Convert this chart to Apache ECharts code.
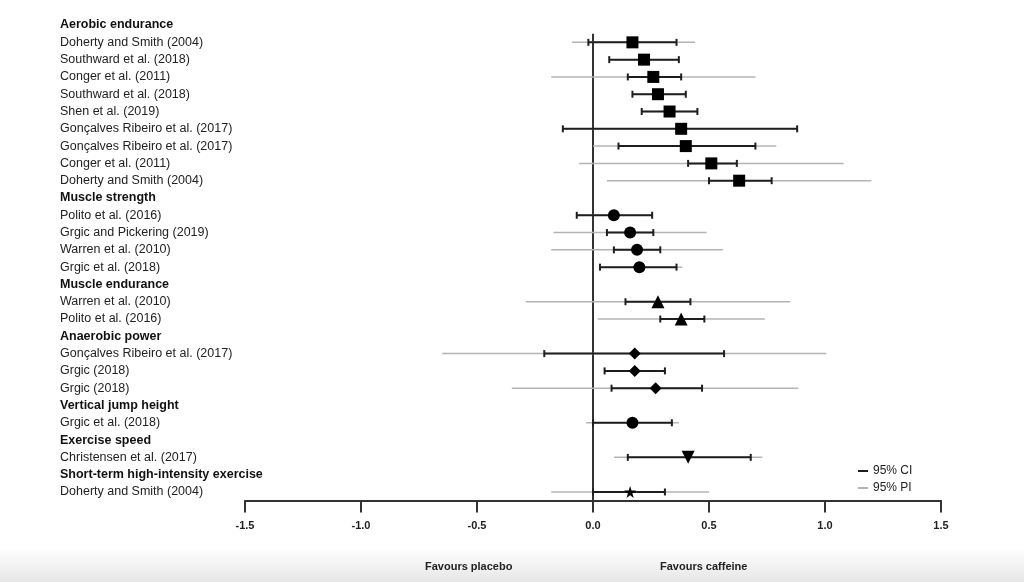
<!DOCTYPE html>
<html>
<head>
<meta charset="utf-8">
<script src="https://cdn.jsdelivr.net/npm/echarts@6/dist/echarts.min.js"></script>
<style>
  html, body { margin: 0; padding: 0; background: #fff; }
  #chart { width: 1024px; height: 582px; }
</style>
</head>
<body>
<div id="chart"></div>
<script>
// rows top to bottom, headers marked
let rows = [
    'Aerobic endurance',
    'Doherty and Smith (2004)', 'Southward et al. (2018)', 'Conger et al. (2011)', 'Southward et al. (2018)',
    'Shen et al. (2019)', 'Gonçalves Ribeiro et al. (2017)', 'Gonçalves Ribeiro et al. (2017)',
    'Conger et al. (2011)', 'Doherty and Smith (2004)',
    'Muscle strength',
    'Polito et al. (2016)', 'Grgic and Pickering (2019)', 'Warren et al. (2010)', 'Grgic et al. (2018)',
    'Muscle endurance',
    'Warren et al. (2010)', 'Polito et al. (2016)',
    'Anaerobic power',
    'Gonçalves Ribeiro et al. (2017)', 'Grgic (2018)', 'Grgic (2018)',
    'Vertical jump height',
    'Grgic et al. (2018)',
    'Exercise speed',
    'Christensen et al. (2017)',
    'Short-term high-intensity exercise',
    'Doherty and Smith (2004)'
];
let headers = [0, 10, 15, 18, 22, 24, 26];

let est    = [null, 0.17, 0.22, 0.26, 0.28, 0.33, 0.38, 0.40, 0.51, 0.63, null, 0.09, 0.16, 0.19, 0.20, null, 0.28, 0.38, null, 0.18, 0.18, 0.27, null, 0.17, null, 0.41, null, 0.16];
let ciLow  = [null, -0.02, 0.07, 0.15, 0.17, 0.21, -0.13, 0.11, 0.41, 0.50, null, -0.07, 0.06, 0.09, 0.03, null, 0.14, 0.29, null, -0.21, 0.05, 0.08, null, 0.00, null, 0.15, null, 0.00];
let ciHigh = [null, 0.36, 0.37, 0.38, 0.40, 0.45, 0.88, 0.70, 0.62, 0.77, null, 0.255, 0.26, 0.29, 0.36, null, 0.42, 0.48, null, 0.565, 0.31, 0.47, null, 0.34, null, 0.68, null, 0.31];
let piLow  = [null, -0.09, 0.07, -0.18, 0.17, 0.21, -0.13, 0.00, -0.06, 0.06, null, -0.07, -0.17, -0.18, 0.03, null, -0.29, 0.02, null, -0.65, 0.05, -0.35, null, -0.03, null, 0.09, null, -0.18];
let piHigh = [null, 0.44, 0.37, 0.70, 0.40, 0.45, 0.88, 0.79, 1.08, 1.20, null, 0.255, 0.49, 0.56, 0.385, null, 0.85, 0.74, null, 1.005, 0.31, 0.885, null, 0.37, null, 0.73, null, 0.50];

// marker per row (by outcome group)
let star = 'path://M50,0 L61,35 L98,35 L68,57 L79,91 L50,70 L21,91 L32,57 L2,35 L39,35 Z';
let marks = [
    null, 'rect', 'rect', 'rect', 'rect', 'rect', 'rect', 'rect', 'rect', 'rect',
    null, 'circle', 'circle', 'circle', 'circle',
    null, 'triangle', 'triangle',
    null, 'diamond', 'diamond', 'diamond',
    null, 'circle',
    null, 'triangleDown',
    null, star
];
let xTicks = [-1.5, 1.5, 0.5];

let font = '"Liberation Sans", Arial, sans-serif';
let ciColor = '#1e1e1e';
let piColor = '#b4b4b4';

let ciData = [], piData = [], ptData = [];
rows.forEach((r, i) => {
    if (est[i] == null) return;
    ciData.push([ciLow[i], ciHigh[i], i]);
    piData.push([piLow[i], piHigh[i], i]);
    let m = marks[i];
    let size = {rect: 12, circle: 12, triangle: 13, diamond: 12, triangleDown: 13}[m] || 12;
    ptData.push({
        value: [est[i], i],
        symbol: m === 'triangleDown' ? 'triangle' : m,
        symbolRotate: m === 'triangleDown' ? 180 : 0,
        symbolSize: size
    });
});

function intervalItem(withCaps, width){
    return function(params, api){
        let y = api.value(2);
        let a = api.coord([api.value(0), y]);
        let b = api.coord([api.value(1), y]);
        let style = {stroke: api.visual('color'), lineWidth: width};
        let kids = [{type: 'line', shape: {x1: a[0], y1: a[1], x2: b[0], y2: b[1]}, style: style}];
        if (withCaps) {
            [a, b].forEach(p => {
                kids.push({type: 'line', shape: {x1: p[0], y1: p[1] - 3.5, x2: p[0], y2: p[1] + 3.5}, style: style});
            });
        }
        return {type: 'group', children: kids};
    };
}

let myChart = echarts.init(document.getElementById('chart'));
let option = {
    backgroundColor: '#fff',
    animation: false,
    textStyle: {fontFamily: font},
    grid: {left: 245, right: 83, top: 16.4, bottom: 81.4},
    legend: {
        data: [{name: '95% CI', icon: 'rect'}, {name: '95% PI', icon: 'rect'}],
        orient: 'vertical',
        left: 853, top: 460,
        itemWidth: 10, itemHeight: 2, itemGap: 5,
        selectedMode: false,
        textStyle: {fontFamily: font, fontSize: 12, color: '#222'}
    },
    xAxis: {
        type: 'value',
        min: xTicks[0], max: xTicks[1], interval: xTicks[2],
        splitLine: {show: false},
        axisLine: {show: true, onZero: false, lineStyle: {color: '#333', width: 2}},
        axisTick: {show: true, length: 12, lineStyle: {color: '#333', width: 2}},
        axisLabel: {
            margin: 20, fontSize: 11, fontWeight: 'bold', color: '#222', fontFamily: font,
            formatter: v => v.toFixed(1)
        }
    },
    yAxis: {
        type: 'category',
        inverse: true,
        data: rows,
        axisLine: {show: false},
        axisTick: {show: false},
        splitLine: {show: false},
        axisLabel: {
            interval: 0,
            align: 'left',
            margin: 185,
            formatter: (v, i) => (headers.indexOf(i) >= 0 ? '{h|' : '{n|') + v + '}',
            rich: {
                h: {fontFamily: font, fontSize: 12.5, fontWeight: 'bold', color: '#111'},
                n: {fontFamily: font, fontSize: 12.5, color: '#222'}
            }
        }
    },
    graphic: [
        {
            type: 'rect', left: 0, top: 548, silent: true, z: -10,
            shape: {width: 1024, height: 34},
            style: {fill: new echarts.graphic.LinearGradient(0, 0, 0, 1, [
                {offset: 0, color: 'rgba(255,255,255,1)'},
                {offset: 1, color: '#e6e6e6'}
            ])}
        },
        {type: 'text', left: 425, top: 561, style: {text: 'Favours placebo', font: 'bold 11px ' + font, fill: '#222'}},
        {type: 'text', left: 660, top: 561, style: {text: 'Favours caffeine', font: 'bold 11px ' + font, fill: '#222'}}
    ],
    series: [
        {
            type: 'custom',
            name: 'zero',
            silent: true,
            data: [[0]],
            renderItem(params, api){
                let cs = params.coordSys;
                let p = api.coord([0, 1]);
                let band = api.size([0, 1])[1];
                return {type: 'line', shape: {x1: p[0], y1: p[1] - band / 2, x2: p[0], y2: cs.y + cs.height},
                    style: {stroke: '#333', lineWidth: 2}};
            },
            z: 1
        },
        {
            type: 'custom', name: '95% PI',
            itemStyle: {color: piColor},
            encode: {x: [0, 1], y: 2},
            data: piData,
            renderItem: intervalItem(false, 1.5),
            z: 2
        },
        {
            type: 'custom', name: '95% CI',
            itemStyle: {color: ciColor},
            encode: {x: [0, 1], y: 2},
            data: ciData,
            renderItem: intervalItem(true, 2),
            z: 3
        },
        {
            type: 'scatter', name: 'est',
            itemStyle: {color: '#000', opacity: 1},
            data: ptData,
            z: 4
        }
    ]
};
myChart.setOption(option);
</script>
</body>
</html>
